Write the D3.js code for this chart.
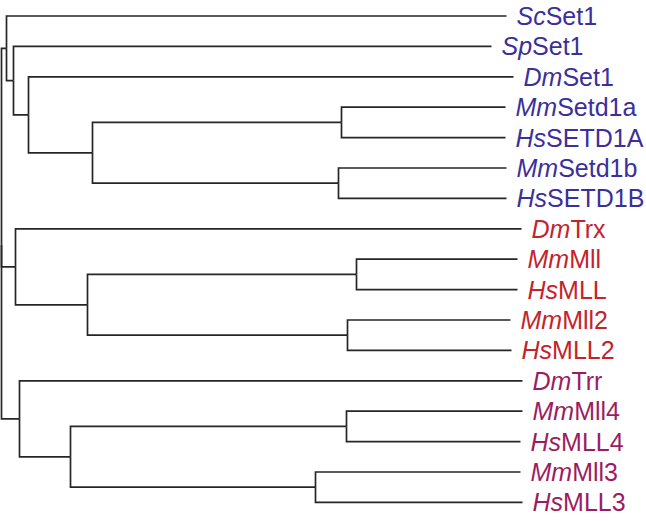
<!DOCTYPE html>
<html>
<head>
<meta charset="utf-8">
<script src="https://cdn.jsdelivr.net/npm/d3@7"></script>
<style>
  html, body { margin: 0; padding: 0; background: #fff; }
  svg { display: block; }
</style>
</head>
<body>
<svg id="chart" width="646" height="521"></svg>
<script>
// Tree nodes (id), parent ids and branch lengths (arbitrary distance units)
const nodeIds = [
  "root",
  "A", "ScSet1", "B", "SpSet1", "C", "DmSet1", "D",
  "S1a", "MmSetd1a", "HsSETD1A", "S1b", "MmSetd1b", "HsSETD1B",
  "E", "DmTrx", "F", "Mll", "MmMll", "HsMLL", "Mll2", "MmMll2", "HsMLL2",
  "G", "DmTrr", "H", "Mll4", "MmMll4", "HsMLL4", "Mll3", "MmMll3", "HsMLL3"
];
const parentIds = [
  null,
  "root", "A", "A", "B", "B", "C", "C",
  "D", "S1a", "S1a", "D", "S1b", "S1b",
  "root", "E", "E", "F", "Mll", "Mll", "F", "Mll2", "Mll2",
  "root", "G", "G", "H", "Mll4", "Mll4", "H", "Mll3", "Mll3"
];
const branchLengths = [
  0,
  0.010, 1.000, 0.014, 0.956, 0.030, 0.970, 0.128,
  0.498, 0.328, 0.328, 0.492, 0.336, 0.336,
  0.028, 1.012, 0.144, 0.538, 0.322, 0.322, 0.520, 0.326, 0.328,
  0.036, 1.006, 0.102, 0.552, 0.352, 0.348, 0.490, 0.410, 0.414
];
// Leaf label parts: italic species prefix + gene name, and group
const leafIds     = ["ScSet1","SpSet1","DmSet1","MmSetd1a","HsSETD1A","MmSetd1b","HsSETD1B",
                     "DmTrx","MmMll","HsMLL","MmMll2","HsMLL2",
                     "DmTrr","MmMll4","HsMLL4","MmMll3","HsMLL3"];
const leafSpecies = ["Sc","Sp","Dm","Mm","Hs","Mm","Hs",
                     "Dm","Mm","Hs","Mm","Hs",
                     "Dm","Mm","Hs","Mm","Hs"];
const leafGenes   = ["Set1","Set1","Set1","Setd1a","SETD1A","Setd1b","SETD1B",
                     "Trx","Mll","MLL","Mll2","MLL2",
                     "Trr","Mll4","MLL4","Mll3","MLL3"];
const leafGroups  = ["Set1","Set1","Set1","Set1","Set1","Set1","Set1",
                     "Trx","Trx","Trx","Trx","Trx",
                     "Trr","Trr","Trr","Trr","Trr"];
const groupNames  = ["Set1","Trx","Trr"];
const groupColors = ["#3b2f9c","#c4232b","#9c1c62"];

const svg = d3.select("#chart");
const rows = nodeIds.map((id, i) => ({ id, parent: parentIds[i], len: branchLengths[i] }));
const root = d3.stratify().id(d => d.id).parentId(d => d.parent)(rows);

// cumulative distance from root
root.eachBefore(n => { n.dist = (n.parent ? n.parent.dist : 0) + n.data.len; });

// vertical layout: evenly spaced leaves (unit spacing), then mapped with a scale
d3.cluster().nodeSize([1, 1]).separation(() => 1)(root);
const leaves = root.leaves();
const minX = d3.min(leaves, d => d.x), maxX = d3.max(leaves, d => d.x);
const yScale = d3.scaleLinear().domain([minX, maxX]).range([16, 502.4]);

const xScale = d3.scaleLinear().domain([0, 1]).range([1.5, 501.5]);

const color = d3.scaleOrdinal().domain(groupNames).range(groupColors);

const g = svg.append("g");

// branches: elbow links
g.selectAll("path.link")
  .data(root.links())
  .join("path")
  .attr("class", "link")
  .attr("fill", "none")
  .attr("stroke", "#262626")
  .attr("stroke-width", 1.7)
  .attr("d", l => {
    const px = xScale(l.source.dist), py = yScale(l.source.x);
    const cx = xScale(l.target.dist), cy = yScale(l.target.x);
    return `M${px},${py}V${cy}H${cx}`;
  });

// labels
const labels = g.selectAll("text.label")
  .data(leaves)
  .join("text")
  .attr("class", "label")
  .attr("x", d => xScale(d.dist) + 10)
  .attr("y", d => yScale(d.x))
  .attr("dy", "0.36em")
  .attr("font-family", "Liberation Sans, Arial, sans-serif")
  .attr("font-size", 25)
  .attr("fill", d => color(leafGroups[leafIds.indexOf(d.id)]));

labels.append("tspan")
  .attr("font-style", "italic")
  .text(d => leafSpecies[leafIds.indexOf(d.id)]);
labels.append("tspan")
  .text(d => leafGenes[leafIds.indexOf(d.id)]);
</script>
</body>
</html>
